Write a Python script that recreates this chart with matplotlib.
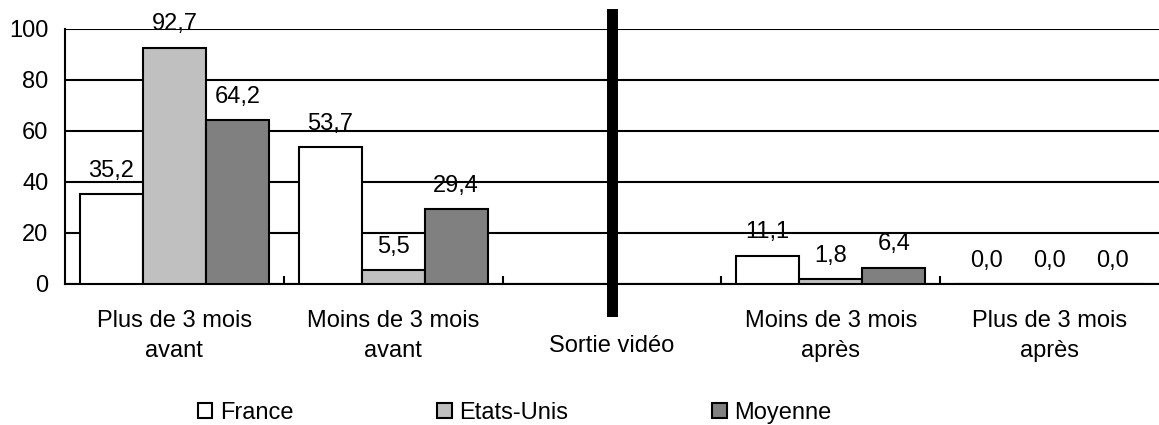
import matplotlib.pyplot as plt
import numpy as np

plt.rcParams['font.family'] = ['Liberation Sans', 'DejaVu Sans']

categories = ['Plus de 3 mois\navant', 'Moins de 3 mois\navant', 'Sortie vidéo',
              'Moins de 3 mois\naprès', 'Plus de 3 mois\naprès']
france = [35.2, 53.7, None, 11.1, 0.0]
etats_unis = [92.7, 5.5, None, 1.8, 0.0]
moyenne = [64.2, 29.4, None, 6.4, 0.0]
series_names = ['France', 'Etats-Unis', 'Moyenne']
colors = ['white', '#c0c0c0', '#808080']

fs = 17
fig = plt.figure(figsize=(11.59, 4.25), dpi=100)
ax = fig.add_axes([0.0561, 0.332, 0.9439, 0.600])

x = np.arange(len(categories))
w = 0.288
for k, (vals, name, col) in enumerate(zip([france, etats_unis, moyenne], series_names, colors)):
    xs = [xi + (k - 1) * w for xi, v in zip(x, vals) if v is not None]
    hs = [v for v in vals if v is not None]
    ax.bar(xs, hs, width=w, color=col, edgecolor='black', linewidth=1.5, label=name, zorder=3)
    for xi, v in zip(xs, hs):
        ax.annotate(f'{v:.1f}'.replace('.', ','), (xi, v), xytext=(0, 12.5), textcoords='offset points',
                    ha='center', va='baseline', fontsize=fs, zorder=4)

ax.set_xlim(-0.5, 4.5)
ax.set_ylim(0, 100)
ax.set_yticks(range(0, 101, 20))
ax.tick_params(axis='y', length=0, pad=12, labelsize=fs)
ax.grid(axis='y', color='black', linewidth=1.5, zorder=1)
ax.set_xticks(np.arange(0.5, 4, 1))
ax.set_xticklabels([])
ax.tick_params(axis='x', direction='in', length=6, width=1.5)
for s in ['top', 'right']:
    ax.spines[s].set_visible(False)
ax.spines['left'].set_linewidth(1.5)
ax.spines['bottom'].set_linewidth(1.5)

# thick black line marking the video release
ax.axvline(2, ymin=-0.108, ymax=1.059, color='black', linewidth=7.9, clip_on=False, zorder=5)

# category labels, drawn line by line
trans = ax.get_xaxis_transform()
for xi, lab in zip(x, categories):
    lines = lab.split('\n')
    if len(lines) == 1:
        ax.text(xi, -0.2667, lines[0], transform=trans, ha='center', va='baseline', fontsize=fs)
    else:
        for i, line in enumerate(lines):
            ax.text(xi, -0.1686 - 0.1177 * i, line, transform=trans, ha='center', va='baseline', fontsize=fs)

fig.legend(loc='center left', bbox_to_anchor=(198 / 1159, 1 - 413 / 425), ncol=3, frameon=False,
           fontsize=fs, borderpad=0, borderaxespad=0,
           handlelength=0.6, handleheight=0.6, handletextpad=0.33, columnspacing=6.1)

plt.savefig('out.png', dpi=100)
